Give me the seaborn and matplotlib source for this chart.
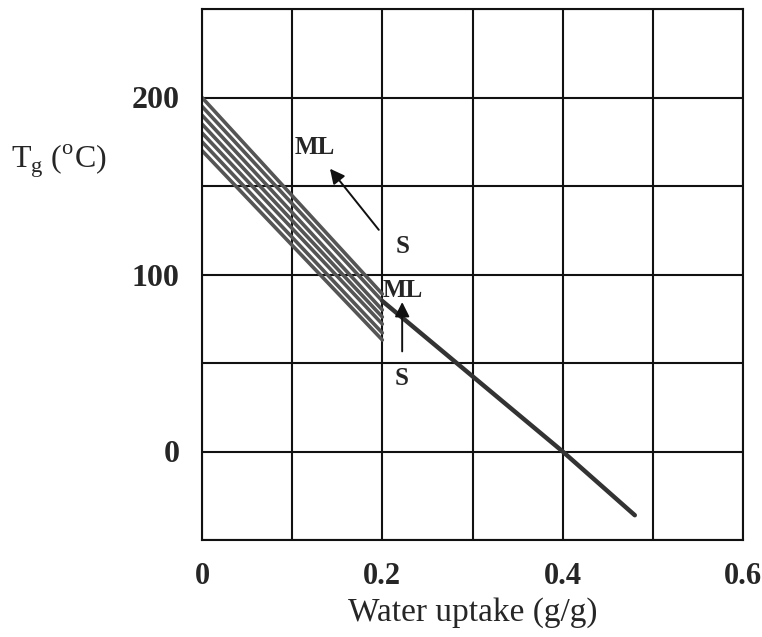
import matplotlib
matplotlib.use("Agg")
import matplotlib.pyplot as plt
import seaborn as sns
import numpy as np
import pandas as pd

# ---- data ----
band_x = [0.0, 0.2]
band_start = [200, 195, 190, 185, 180, 175, 170]   # Tg at x = 0
band_end = [89, 85, 80, 76, 72, 67, 63]            # Tg at x = 0.2
main_x = [0.2, 0.4, 0.48]
main_y = [85, 0, -36]

x_ticks = [0, 0.2, 0.4, 0.6]
x_tick_labels = ["0", "0.2", "0.4", "0.6"]
y_ticks = [0, 100, 200]
y_tick_labels = ["0", "100", "200"]

rows = []
for i, (s, e) in enumerate(zip(band_start, band_end)):
    rows.append({"x": band_x[0], "y": s, "line": f"b{i}"})
    rows.append({"x": band_x[1], "y": e, "line": f"b{i}"})
band_df = pd.DataFrame(rows)
main_df = pd.DataFrame({"x": main_x, "y": main_y})

sns.set_theme(style="white")
plt.rcParams["font.family"] = ["Liberation Serif", "DejaVu Serif"]
plt.rcParams["mathtext.fontset"] = "custom"
plt.rcParams["mathtext.rm"] = "Liberation Serif"

fig = plt.figure(figsize=(7.62, 6.37), dpi=100)
ax = fig.add_axes([202 / 762, 1 - 540 / 637, (743 - 202) / 762, (540 - 9) / 637])

sns.lineplot(data=band_df, x="x", y="y", units="line", estimator=None,
             color="#555555", lw=2.6, ax=ax, legend=False)
sns.lineplot(data=main_df, x="x", y="y", estimator=None, color="#333333",
             lw=3.2, ax=ax, legend=False)

ax.set_xlim(0, 0.6)
ax.set_ylim(-50, 250)
ax.set_xticks(x_ticks)
ax.set_xticklabels(x_tick_labels, fontsize=22, fontweight="bold")
ax.set_yticks(y_ticks)
ax.set_yticklabels(y_tick_labels, fontsize=23, fontweight="bold")
ax.set_xticks(np.arange(0.1, 0.6, 0.2), minor=True)
ax.set_yticks([-50, 50, 150, 250], minor=True)
ax.grid(True, which="both", color="#111111", lw=1.5)
ax.set_axisbelow(True)
ax.tick_params(axis="x", which="both", length=0, pad=16)
ax.tick_params(axis="y", which="both", length=0, pad=16)
for sp in ax.spines.values():
    sp.set_color("#111111")
    sp.set_linewidth(1.5)
ax.set_xlabel("Water uptake (g/g)", fontsize=24, labelpad=4)
ax.set_ylabel("")

fig.text(0.014, 1 - 161 / 637, r"T$_{\mathregular{g}}$ ($^{\mathregular{o}}$C)",
         fontsize=23, ha="left", va="center")

# annotations
ax.annotate("", xy=(0.14, 161), xytext=(0.198, 124),
            arrowprops=dict(arrowstyle="-|>", color="#111111", lw=1.4,
                            mutation_scale=22))
ax.text(0.103, 172, "ML", fontsize=18, fontweight="bold", ha="left", va="center")
ax.text(0.222, 116, "S", fontsize=18, fontweight="bold", ha="center", va="center")
ax.annotate("", xy=(0.222, 86), xytext=(0.222, 55),
            arrowprops=dict(arrowstyle="-|>", color="#111111", lw=1.4,
                            mutation_scale=22))
ax.text(0.2, 91, "ML", fontsize=18, fontweight="bold", ha="left", va="center")
ax.text(0.221, 41, "S", fontsize=18, fontweight="bold", ha="center", va="center")

fig.savefig("out.png", dpi=100)
